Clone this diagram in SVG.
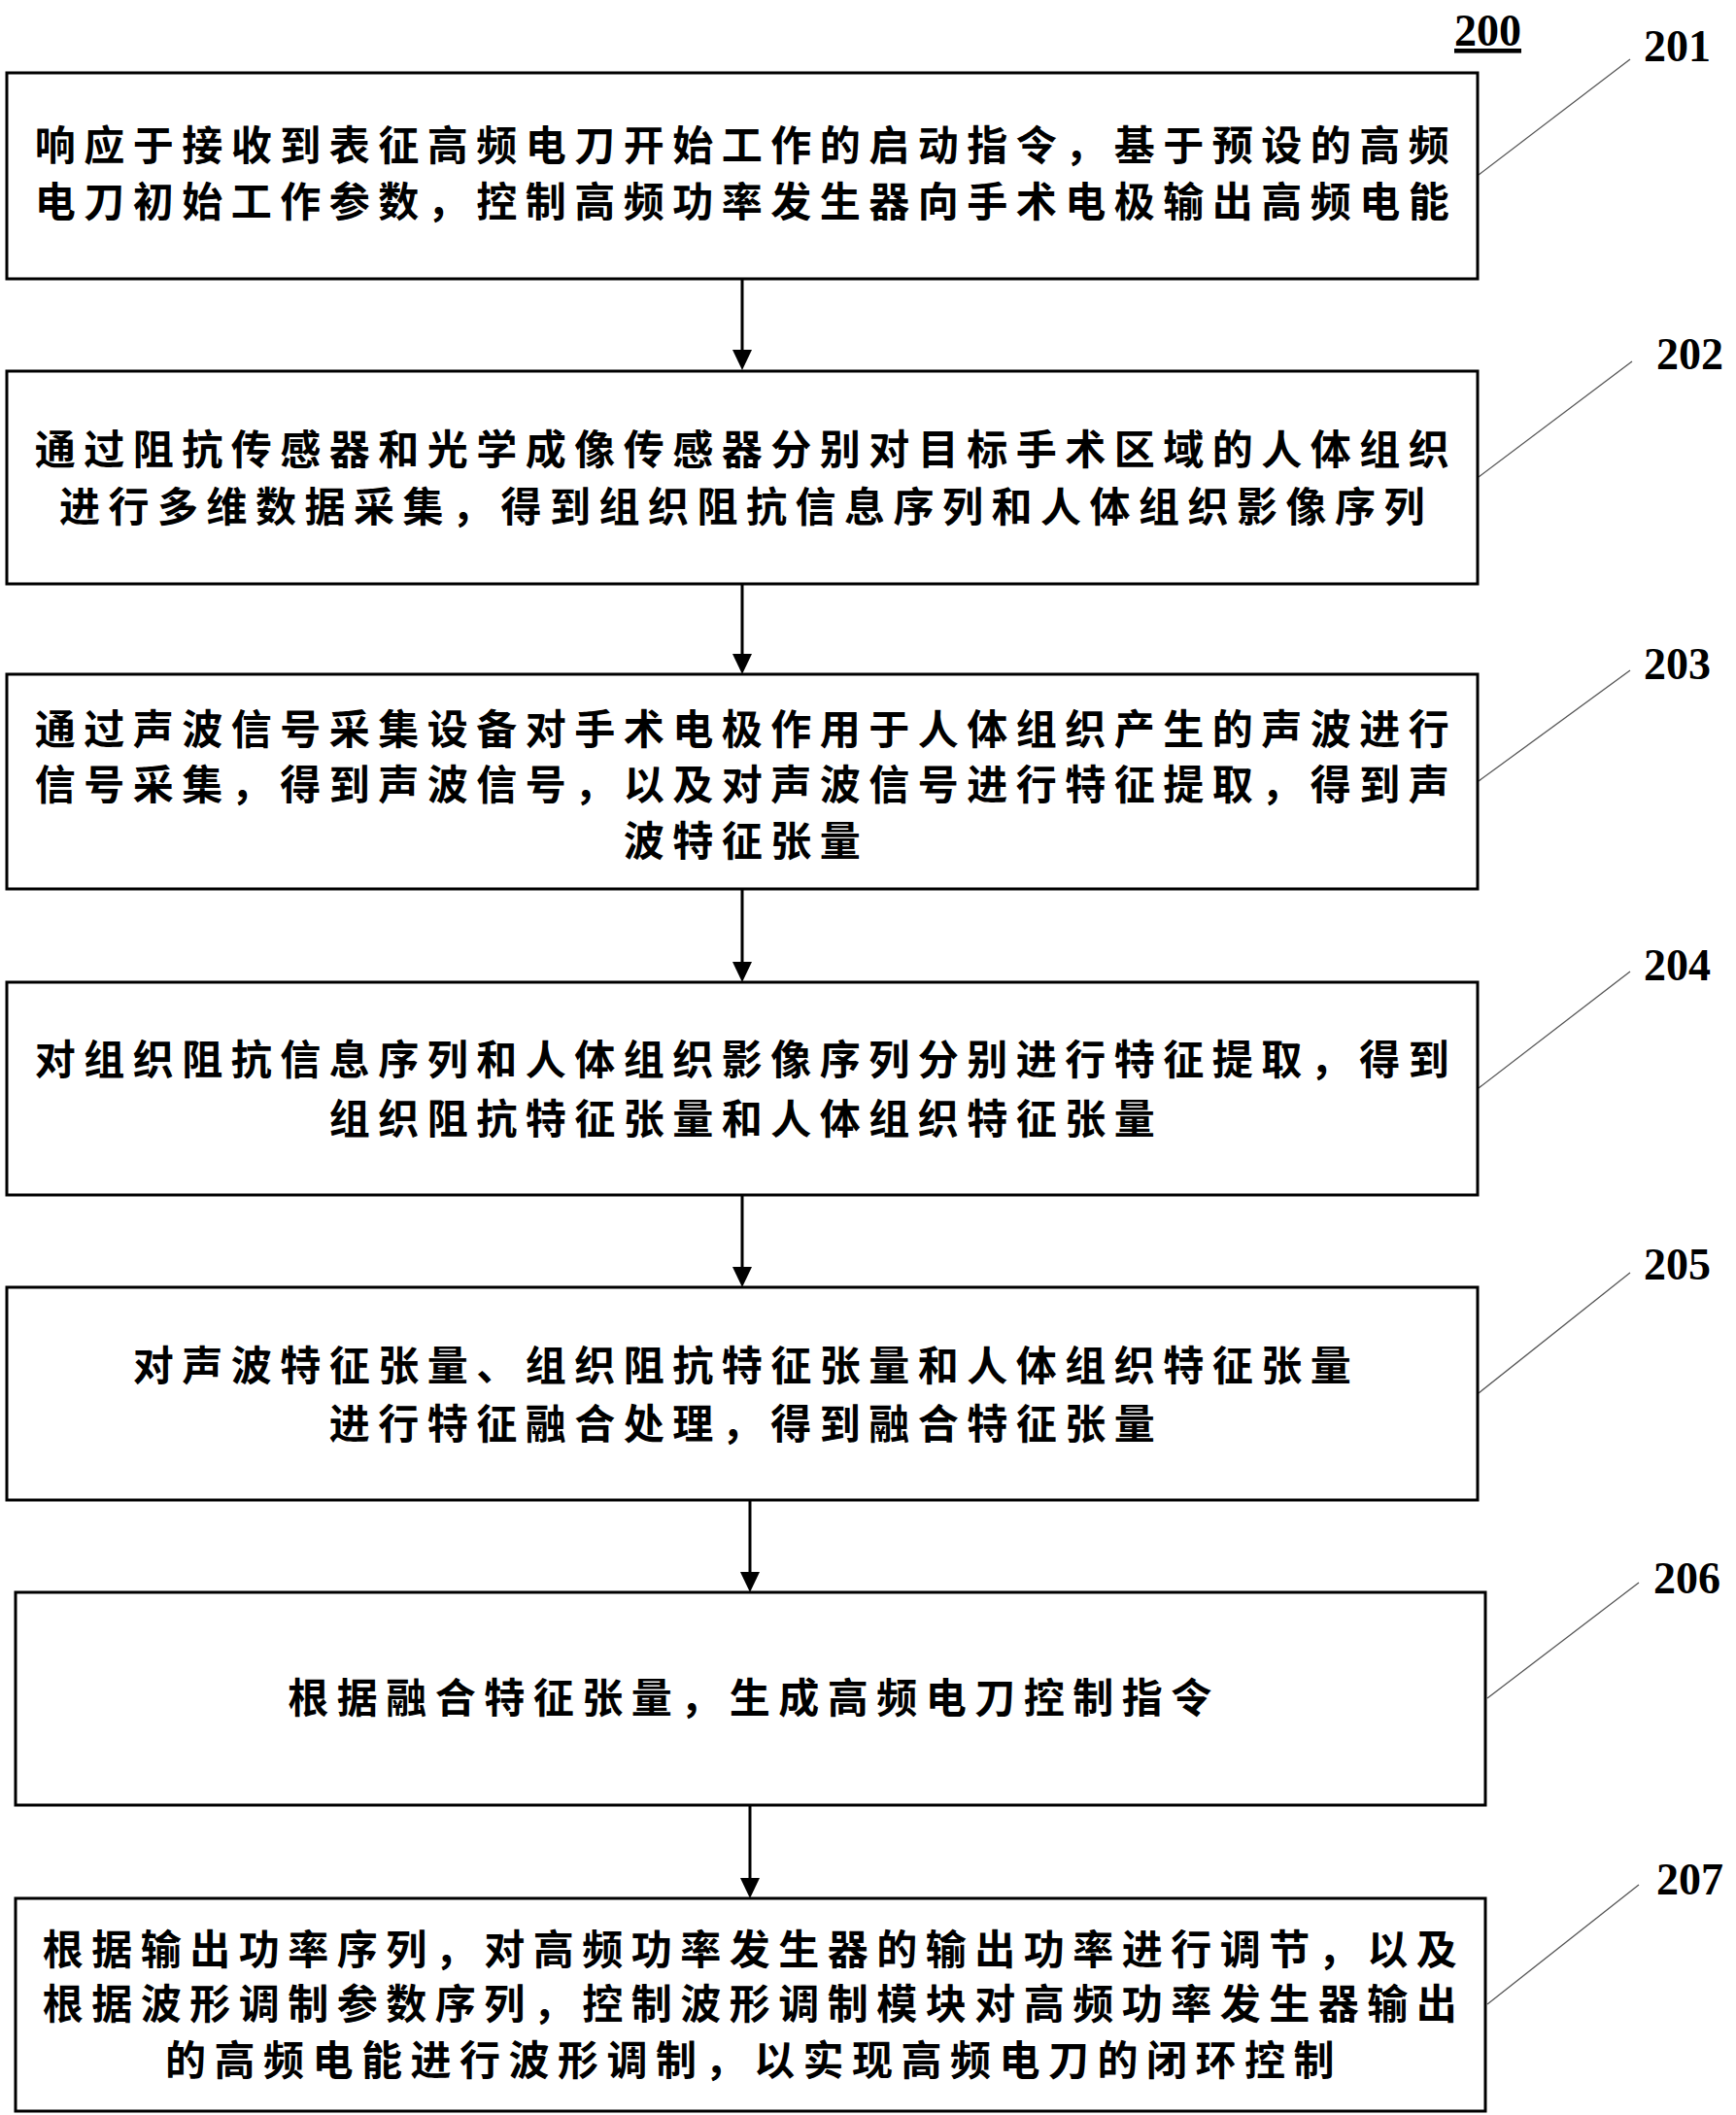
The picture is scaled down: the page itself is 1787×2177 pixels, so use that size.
<svg xmlns="http://www.w3.org/2000/svg" width="1787" height="2177" viewBox="0 0 1787 2177">
<defs>
<style>
.box{fill:#fff;stroke:#000;stroke-width:3}
.t{font-family:"Noto Sans CJK SC","Noto Sans CJK JP",sans-serif;font-size:42px;font-weight:bold;letter-spacing:8.5px;text-anchor:middle;fill:#000}
.lbl{font-family:"Liberation Serif","Times New Roman",serif;font-size:46px;font-weight:bold;fill:#000}
.lead{stroke:#555;stroke-width:1.3;fill:none}
.arr{stroke:#000;stroke-width:3;fill:none}
</style>
</defs>
<rect width="1787" height="2177" fill="#fff"/>
<text class="lbl" x="1497" y="47" font-size="44" text-decoration="underline">200</text>

<g id="connectors">
<line class="arr" x1="764" y1="287" x2="764" y2="360"/><path d="M754,360 L774,360 L764,381 Z"/>
<line class="arr" x1="764" y1="601" x2="764" y2="673"/><path d="M754,673 L774,673 L764,694 Z"/>
<line class="arr" x1="764" y1="915" x2="764" y2="990"/><path d="M754,990 L774,990 L764,1011 Z"/>
<line class="arr" x1="764" y1="1230" x2="764" y2="1304"/><path d="M754,1304 L774,1304 L764,1325 Z"/>
<line class="arr" x1="772" y1="1544" x2="772" y2="1618"/><path d="M762,1618 L782,1618 L772,1639 Z"/>
<line class="arr" x1="772" y1="1858" x2="772" y2="1933"/><path d="M762,1933 L782,1933 L772,1954 Z"/>
<line class="lead" x1="1522" y1="180" x2="1678" y2="61"/>
<line class="lead" x1="1522" y1="491" x2="1680" y2="372"/>
<line class="lead" x1="1522" y1="804" x2="1678" y2="690"/>
<line class="lead" x1="1522" y1="1120" x2="1678" y2="1000"/>
<line class="lead" x1="1522" y1="1434" x2="1678" y2="1310"/>
<line class="lead" x1="1531" y1="1748" x2="1687" y2="1629"/>
<line class="lead" x1="1531" y1="2063" x2="1687" y2="1940"/>
</g>

<g id="n201">
<rect class="box" x="7" y="75" width="1514" height="212"/>
<text class="t" x="768" y="165">响应于接收到表征高频电刀开始工作的启动指令，基于预设的高频</text>
<text class="t" x="768" y="223">电刀初始工作参数，控制高频功率发生器向手术电极输出高频电能</text>
<text class="lbl" x="1692" y="63">201</text>
</g>
<g id="n202">
<rect class="box" x="7" y="382" width="1514" height="219"/>
<text class="t" x="768" y="478">通过阻抗传感器和光学成像传感器分别对目标手术区域的人体组织</text>
<text class="t" x="768" y="537">进行多维数据采集，得到组织阻抗信息序列和人体组织影像序列</text>
<text class="lbl" x="1705" y="380">202</text>
</g>
<g id="n203">
<rect class="box" x="7" y="694" width="1514" height="221"/>
<text class="t" x="768" y="766">通过声波信号采集设备对手术电极作用于人体组织产生的声波进行</text>
<text class="t" x="768" y="823">信号采集，得到声波信号，以及对声波信号进行特征提取，得到声</text>
<text class="t" x="768" y="881">波特征张量</text>
<text class="lbl" x="1692" y="699">203</text>
</g>
<g id="n204">
<rect class="box" x="7" y="1011" width="1514" height="219"/>
<text class="t" x="768" y="1106">对组织阻抗信息序列和人体组织影像序列分别进行特征提取，得到</text>
<text class="t" x="768" y="1167">组织阻抗特征张量和人体组织特征张量</text>
<text class="lbl" x="1692" y="1009">204</text>
</g>
<g id="n205">
<rect class="box" x="7" y="1325" width="1514" height="219"/>
<text class="t" x="768" y="1421">对声波特征张量、组织阻抗特征张量和人体组织特征张量</text>
<text class="t" x="768" y="1481">进行特征融合处理，得到融合特征张量</text>
<text class="lbl" x="1692" y="1317">205</text>
</g>
<g id="n206">
<rect class="box" x="16" y="1639" width="1513" height="219"/>
<text class="t" x="776" y="1763">根据融合特征张量，生成高频电刀控制指令</text>
<text class="lbl" x="1702" y="1640">206</text>
</g>
<g id="n207">
<rect class="box" x="16" y="1954" width="1513" height="219"/>
<text class="t" x="776" y="2022">根据输出功率序列，对高频功率发生器的输出功率进行调节，以及</text>
<text class="t" x="776" y="2078">根据波形调制参数序列，控制波形调制模块对高频功率发生器输出</text>
<text class="t" x="776" y="2136">的高频电能进行波形调制，以实现高频电刀的闭环控制</text>
<text class="lbl" x="1705" y="1950">207</text>
</g>
</svg>
